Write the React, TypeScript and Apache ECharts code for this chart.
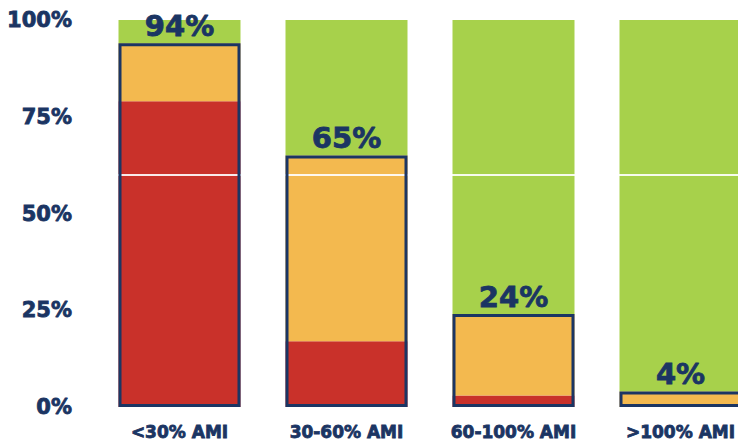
import React, { useEffect, useRef } from "react";
import * as echarts from "echarts";

// Income bands (share of Area Median Income)
const categories = ["<30% AMI", "30-60% AMI", "60-100% AMI", ">100% AMI"];
// Share of households by housing cost burden, in percent
const severeBurden = [79, 17, 3, 0];
const moderateBurden = [15, 48, 21, 4];
const notBurdened = [6, 35, 76, 96];
// Combined cost-burdened share (severe + moderate)
const totalBurdened = severeBurden.map((v, i) => v + moderateBurden[i]);
const yTicks = { min: 0, max: 100, interval: 25 };

const NAVY = "#1b3563";
const FONT = "DejaVu Sans";
// heavy lettering: bold face plus a thin stroke of the same colour
const heavyText = {
  color: NAVY,
  fontFamily: FONT,
  fontWeight: "bold",
  textBorderColor: NAVY,
  textBorderWidth: 0.8,
};

export default function App() {
  const ref = useRef<HTMLDivElement>(null);

  useEffect(() => {
    if (!ref.current) return;
    const chart = echarts.init(ref.current, null, { renderer: "svg" });
    const barWidth = 122;
    chart.setOption({
      animation: false,
      backgroundColor: "#ffffff",
      // the chart canvas is wider than the visible frame, so the last band is cut off
      grid: { left: 96, right: 36, top: 20, bottom: 36 },
      xAxis: {
        type: "category",
        data: categories,
        axisLine: { show: false },
        axisTick: { show: false },
        axisLabel: {
          ...heavyText,
          fontSize: 17,
          margin: 16,
          interval: 0,
        },
      },
      yAxis: {
        type: "value",
        min: yTicks.min,
        max: yTicks.max,
        interval: yTicks.interval,
        axisLine: { show: false },
        axisTick: { show: false },
        splitLine: { show: false },
        axisLabel: {
          ...heavyText,
          formatter: "{value}%",
          fontSize: 21,
          margin: 24,
        },
      },
      series: [
        {
          name: "Severe",
          type: "bar",
          stack: "burden",
          barWidth,
          barGap: "-100%",
          data: severeBurden,
          itemStyle: { color: "#c9312a" },
        },
        {
          name: "Moderate",
          type: "bar",
          stack: "burden",
          barWidth,
          barGap: "-100%",
          data: moderateBurden,
          itemStyle: { color: "#f3b94f" },
        },
        {
          name: "Not burdened",
          type: "bar",
          stack: "burden",
          barWidth,
          barGap: "-100%",
          data: notBurdened,
          itemStyle: { color: "#a7d14b" },
        },
        {
          name: "Cost burdened",
          type: "bar",
          barWidth,
          barGap: "-100%",
          z: 5,
          data: totalBurdened,
          itemStyle: {
            color: "rgba(0,0,0,0)",
            borderColor: NAVY,
            borderWidth: 3,
          },
          label: {
            ...heavyText,
            show: true,
            position: "top",
            distance: 3,
            formatter: "{c}%",
            fontSize: 29,
          },
          markLine: {
            silent: true,
            symbol: "none",
            label: { show: false },
            lineStyle: { color: "#ffffff", width: 2, type: "solid", opacity: 0.9 },
            data: [{ yAxis: 60 }],
          },
        },
      ],
    });
    return () => chart.dispose();
  }, []);

  return (
    <div
      style={{
        position: "fixed",
        left: 0,
        top: 0,
        width: 738,
        height: 443,
        overflow: "hidden",
        background: "#ffffff",
      }}
    >
      <div ref={ref} style={{ width: 800, height: 443 }} />
    </div>
  );
}
